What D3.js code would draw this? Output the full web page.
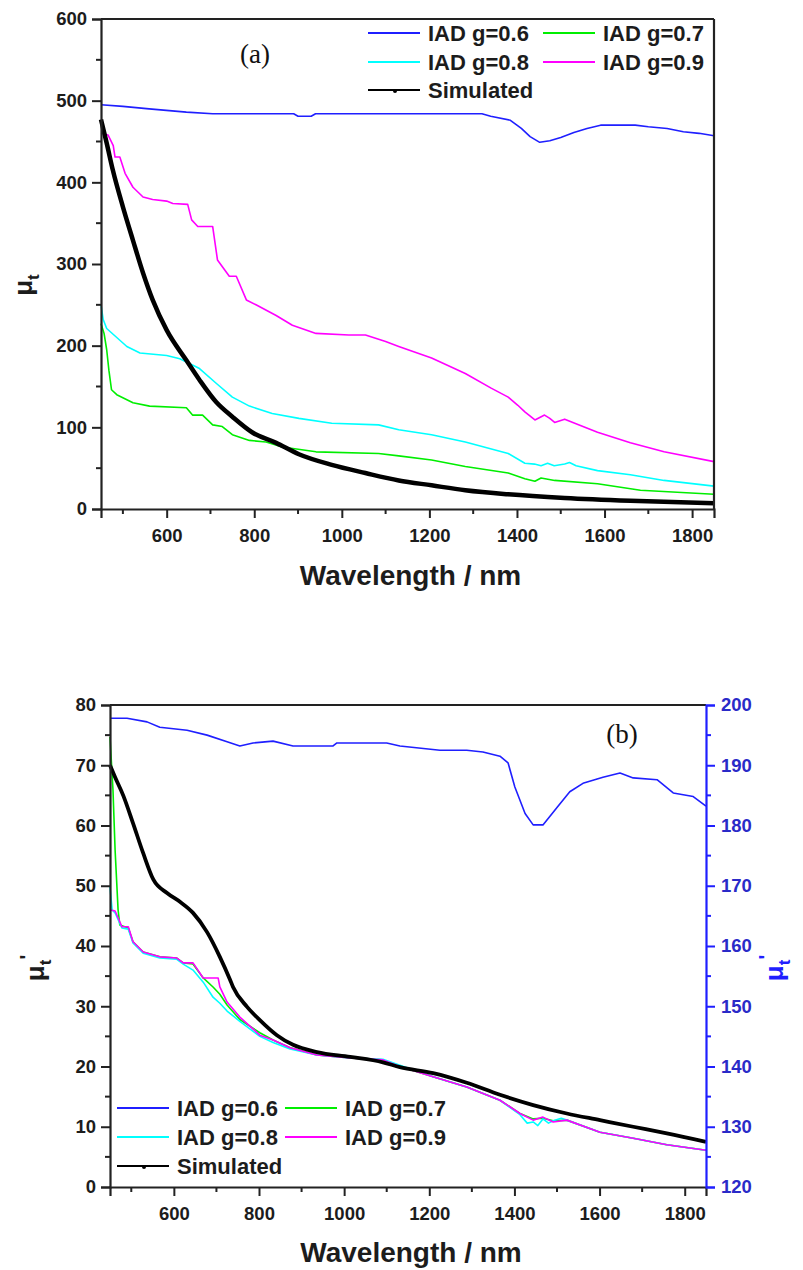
<!DOCTYPE html>
<html><head><meta charset="utf-8">
<script src="https://cdn.jsdelivr.net/npm/d3@7"></script>
<style>
body{margin:0;background:#fff;}
svg text{font-family:"Liberation Sans",Arial,sans-serif;font-weight:bold;}
</style></head>
<body><svg id="c" width="803" height="1270"></svg>
<script>
// ---------- DATA: panel (a) total attenuation mu_t ----------
const a_g06 = [[450,495],[500,493],[560,490],[645,486],[705,484],[890,484],[900,481],[930,481],[940,484],[1320,484],[1340,481],[1385,476],[1410,466],[1430,456],[1452,449],[1475,451],[1500,455],[1530,461],[1560,466],[1591,470],[1670,470],[1700,468],[1743,466],[1780,462],[1816,460],[1850,457]];
const a_g07 = [[450,227],[457,215],[463,195],[468,170],[474,146],[486,140],[523,130],[561,126],[645,124],[659,115],[682,115],[705,103],[727,101],[750,91],[789,84],[827,82],[864,76],[941,70],[1084,68],[1130,65],[1205,60],[1282,52],[1380,44],[1418,37],[1441,34],[1455,38],[1486,35],[1584,31],[1682,23],[1850,18]];
const a_g08 = [[450,250],[455,232],[463,221],[509,199],[539,191],[600,188],[630,184],[675,172],[713,154],[750,137],[789,126],[841,117],[902,111],[977,105],[1084,103],[1130,97],[1205,91],[1282,82],[1380,68],[1418,56],[1440,55],[1455,53],[1470,56],[1485,53],[1509,55],[1520,57],[1535,53],[1584,47],[1659,42],[1736,35],[1850,28]];
const a_g09 = [[450,460],[466,458],[478,445],[482,431],[493,431],[505,411],[523,394],[546,382],[568,379],[600,377],[614,374],[648,373],[657,354],[671,346],[705,346],[716,305],[743,285],[759,285],[782,256],[804,250],[850,237],[887,225],[941,215],[1016,213],[1054,213],[1100,205],[1130,199],[1205,185],[1282,166],[1341,148],[1380,137],[1402,127],[1418,119],[1441,109],[1452,112],[1463,115],[1475,111],[1486,106],[1509,110],[1532,105],[1584,94],[1659,81],[1736,70],[1850,58]];
const a_sim = [[450,477],[463,448],[477,415],[500,370],[523,329],[546,289],[568,256],[600,219],[645,182],[675,158],[713,131],[750,113],[795,94],[850,81],[902,67],[977,54],[1054,44],[1130,35],[1205,29],[1282,23],[1380,18],[1509,13.5],[1659,10],[1850,7]];

// ---------- DATA: panel (b) reduced attenuation mu_t' ----------
// g=0.6 is read on the right axis (120-200)
const b_g06 = [[450,197.8],[490,197.8],[537,197.2],[567,196.3],[631,195.8],[678,195],[725,193.9],[755,193.2],[786,193.7],[833,194],[880,193.2],[974,193.2],[983,193.7],[1100,193.7],[1131,193.2],[1225,192.5],[1288,192.5],[1326,192.2],[1366,191.5],[1385,190.4],[1401,186.4],[1425,182],[1444,180.1],[1467,180.1],[1500,183],[1530,185.6],[1561,187],[1608,188],[1648,188.7],[1679,187.9],[1735,187.6],[1773,185.4],[1820,184.8],[1850,183.2]];
const b_g07 = [[450,74.7],[457,65.9],[462,55.9],[469,46],[473,43.5],[493,43],[504,40.7],[528,39],[567,38.2],[607,38],[622,37.2],[645,37],[669,34.7],[692,33.2],[708,32],[725,30.2],[755,27.8],[802,25.6],[833,24.4],[873,23.1],[936,21.9],[1014,21.4],[1091,21.1],[1131,20],[1209,18.3],[1288,16.6],[1366,14.4],[1413,12.2],[1444,11.3],[1467,11.4],[1491,11],[1523,11.1],[1601,9.1],[1679,8.1],[1758,7],[1850,6.1]];
const b_g08 = [[450,49.8],[455,46],[462,45.5],[478,43],[493,42.8],[504,40.5],[528,38.8],[567,38],[607,37.8],[622,37],[645,36],[669,34],[692,31.5],[708,30.5],[725,29.2],[755,27.5],[802,25],[833,24],[873,22.9],[936,21.9],[1014,21.4],[1091,21.2],[1131,20.2],[1209,18.3],[1288,16.6],[1366,14.4],[1413,12],[1430,10.6],[1444,10.8],[1455,10.2],[1467,11.3],[1480,10.6],[1491,11],[1510,11.4],[1523,11.1],[1601,9.1],[1679,8.1],[1758,7],[1850,6.1]];
const b_g09 = [[450,46],[462,45.8],[478,43.2],[493,43.2],[504,40.7],[528,39],[567,38.2],[607,38],[622,37.2],[645,37.2],[669,34.7],[704,34.7],[708,33.2],[725,30.7],[755,28.2],[802,25.2],[833,24.4],[873,23.1],[936,21.9],[1014,21.4],[1091,21.1],[1131,20],[1209,18.3],[1288,16.6],[1366,14.4],[1413,12.2],[1444,11.1],[1467,11.6],[1491,10.8],[1523,11.1],[1601,9.1],[1679,8.1],[1758,7],[1850,6.1]];
const b_sim = [[450,70],[462,68],[481,65],[504,60.4],[528,55.4],[552,51],[584,48.8],[615,47.3],[645,45.5],[678,42.3],[708,38.2],[732,34.4],[739,33.2],[772,29.9],[802,27.7],[842,25.2],[880,23.6],[936,22.4],[1014,21.6],[1091,20.7],[1131,19.9],[1209,18.9],[1288,17.3],[1366,15.3],[1444,13.6],[1523,12.2],[1601,11.1],[1679,10],[1758,8.9],[1850,7.5]];

// ---------- labels ----------
const xTicks = [600,800,1000,1200,1400,1600,1800];
const yTicksA = [0,100,200,300,400,500,600];
const yTicksBL = [0,10,20,30,40,50,60,70,80];
const yTicksBR = [120,130,140,150,160,170,180,190,200];
const seriesNames = ["IAD g=0.6","IAD g=0.7","IAD g=0.8","IAD g=0.9","Simulated"];
const seriesColors = ["#1f1fff","#00ee00","#00ffff","#ff00ff","#000000"];

const svg = d3.select("#c");
const TXT = "#1c1c1c";

function styleAxis(g, color){
  g.selectAll("path.domain").attr("stroke", color).attr("stroke-width", 2.2);
  g.selectAll(".tick line").attr("stroke", color).attr("stroke-width", 2);
  g.selectAll(".tick text").attr("fill", color === "#1f1fff" ? "#2a2ac8" : TXT)
    .style("font-size","18.5px").style("font-family","'Liberation Sans',Arial,sans-serif").style("font-weight","bold");
}

function minorTicks(g, scale, vals, orient, len, color){
  const mg = g.append("g");
  vals.forEach(v=>{
    const p = scale(v);
    if(orient==="bottom") mg.append("line").attr("x1",p).attr("x2",p).attr("y1",0).attr("y2",len);
    if(orient==="left") mg.append("line").attr("y1",p).attr("y2",p).attr("x1",0).attr("x2",-len);
    if(orient==="right") mg.append("line").attr("y1",p).attr("y2",p).attr("x1",0).attr("x2",len);
  });
  mg.selectAll("line").attr("stroke",color).attr("stroke-width",2);
}

function drawPanel(cfg){
  const {L,R,T,B} = cfg;
  const x = d3.scaleLinear().domain([450,1850]).range([L,R]);
  const y = d3.scaleLinear().domain(cfg.yDomain).range([B,T]);
  const g = svg.append("g");

  let yR = null;
  if(cfg.yRDomain){ yR = d3.scaleLinear().domain(cfg.yRDomain).range([B,T]); }
  cfg.series.forEach((s,i)=>{
    const isSim = i===4;
    const ys = s.right ? yR : y;
    const line = d3.line().x(d=>x(d[0])).y(d=>ys(d[1]))
      .curve(isSim ? d3.curveMonotoneX : d3.curveLinear);
    g.append("path").datum(s.data)
      .attr("fill","none")
      .attr("stroke",seriesColors[i])
      .attr("stroke-width", isSim ? cfg.simW : 1.6)
      .attr("stroke-linejoin","round")
      .attr("d", line);
  });

  // frame top
  g.append("line").attr("x1",L).attr("x2",R).attr("y1",T).attr("y2",T).attr("stroke","#222").attr("stroke-width",2.2);
  if(!cfg.yRDomain){
    g.append("line").attr("x1",R).attr("x2",R).attr("y1",T).attr("y2",B).attr("stroke","#222").attr("stroke-width",2.2);
  }

  // x axis
  const gx = g.append("g").attr("transform",`translate(0,${B})`)
    .call(d3.axisBottom(x).tickValues(xTicks).tickSize(9).tickPadding(11).tickFormat(d3.format("d")));
  styleAxis(gx,"#222");
  minorTicks(gx, x, [500,700,900,1100,1300,1500,1700], "bottom", 5, "#222");

  // y axis left
  const gy = g.append("g").attr("transform",`translate(${L},0)`)
    .call(d3.axisLeft(y).tickValues(cfg.yTicks).tickSize(9).tickPadding(5).tickFormat(d3.format("d")));
  styleAxis(gy,"#222");
  minorTicks(gy, y, cfg.yMinor, "left", 5, "#222");

  if(yR){
    const gr = g.append("g").attr("transform",`translate(${R},0)`)
      .call(d3.axisRight(yR).tickValues(cfg.yRTicks).tickSize(9).tickPadding(6).tickFormat(d3.format("d")));
    styleAxis(gr,"#1f1fff");
    minorTicks(gr, yR, cfg.yRMinor, "right", 5, "#1f1fff");
  }

  // x title
  g.append("text").attr("x",(L+R)/2+3).attr("y",cfg.xTitleY).attr("text-anchor","middle")
    .attr("fill",TXT).style("font-size","28px").text("Wavelength / nm");

  // y title(s)
  function yTitle(xp, yp, prime, color){
    const t = g.append("text").attr("transform",`translate(${xp},${yp}) rotate(-90)`)
      .attr("text-anchor","middle").attr("fill",color).style("font-size","26px");
    t.append("tspan").text("\u03bc");
    t.append("tspan").attr("dy",7).style("font-size","17px").text("t");
    if(prime) t.append("tspan").attr("dy",-17).style("font-size","20px").text("'");
  }
  yTitle(cfg.yTitleX, cfg.yTitleY, cfg.prime, TXT);
  if(yR) yTitle(cfg.yRTitleX, cfg.yTitleY, true, "#1f1fff");

  // panel tag
  g.append("text").attr("x",cfg.tag[0]).attr("y",cfg.tag[1]).attr("text-anchor","middle")
    .style("font-family","'Liberation Serif','Times New Roman',serif").style("font-weight","normal")
    .style("font-size","27px").attr("fill","#111").text(cfg.tagText);

  // legend
  const lg = g.append("g");
  const lx = cfg.legend;
  seriesNames.forEach((name,i)=>{
    const col = i===4 ? 0 : i%2;
    const row = i===4 ? 2 : Math.floor(i/2);
    const x0 = lx.x[col], yy = lx.y[row];
    lg.append("line").attr("x1",x0).attr("x2",x0+52).attr("y1",yy).attr("y2",yy)
      .attr("stroke",seriesColors[i]).attr("stroke-width",i===4?2:1.8);
    if(i===4) lg.append("circle").attr("cx",x0+27).attr("cy",yy+1).attr("r",2).attr("fill","#000");
    lg.append("text").attr("x",x0+60).attr("y",yy+8).attr("fill",TXT)
      .style("font-size","22px").text(name);
  });
}

drawPanel({
  L:101,R:714,T:19,B:509,
  yDomain:[0,600], yTicks:yTicksA, yMinor:[50,150,250,350,450,550],
  series:[{data:a_g06},{data:a_g07},{data:a_g08},{data:a_g09},{data:a_sim}],
  simW:4.5,
  xTitleY:585, yTitleX:32, yTitleY:285, prime:false,
  tag:[255,63], tagText:"(a)",
  legend:{x:[368,543], y:[33,62,90]}
});

drawPanel({
  L:110,R:706,T:705,B:1187,
  yDomain:[0,80], yTicks:yTicksBL, yMinor:[5,15,25,35,45,55,65,75],
  yRDomain:[120,200], yRTicks:yTicksBR, yRMinor:[125,135,145,155,165,175,185,195],
  series:[{data:b_g06,right:true},{data:b_g07},{data:b_g08},{data:b_g09},{data:b_sim}],
  simW:3.8,
  xTitleY:1262, yTitleX:44, yRTitleX:783, yTitleY:968, prime:true,
  tag:[622,743], tagText:"(b)",
  legend:{x:[117,285], y:[1108,1137,1166]}
});
</script></body></html>
